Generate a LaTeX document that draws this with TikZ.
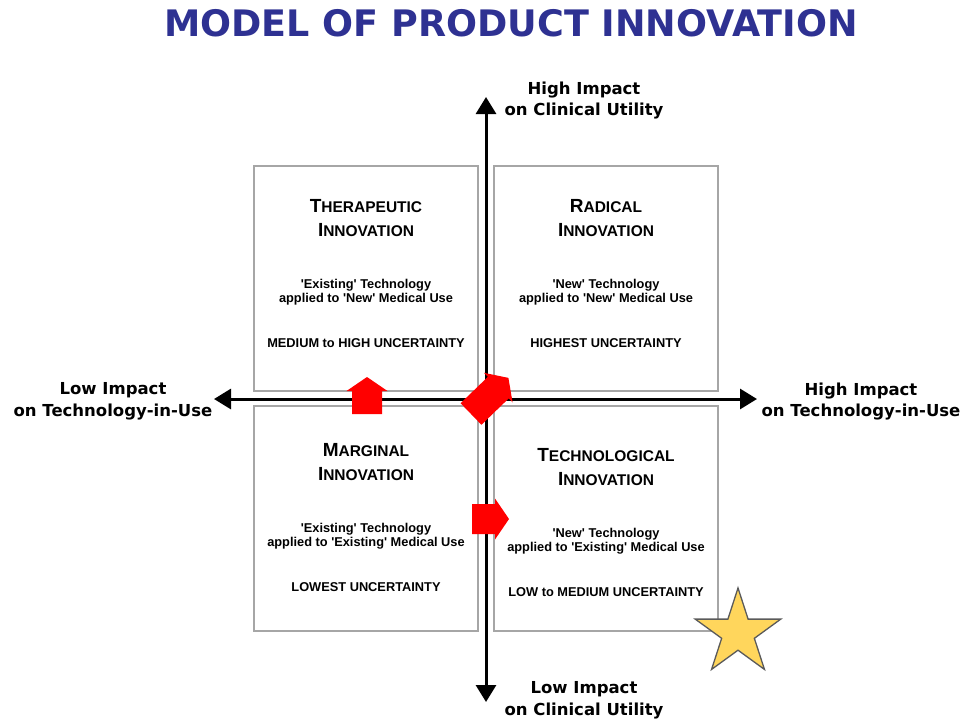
\documentclass[tikz,border=0pt]{standalone}
\usepackage{fontspec}
\setmainfont{Liberation Sans}
\newfontfamily\titlefont{DejaVu Sans}
\usetikzlibrary{arrows.meta,shapes.geometric}

\definecolor{titleblue}{HTML}{2E3192}
\definecolor{boxgray}{HTML}{A6A6A6}
\definecolor{stargold}{HTML}{FFD65C}
\definecolor{stargray}{HTML}{5A5A5A}

% small caps by hand: big initial, smaller rest
\newcommand{\capword}[2]{{\fontsize{19}{19}\selectfont #1}{\fontsize{15.5}{15.5}\selectfont #2}}
\newcommand{\q}{\textquotesingle}

% red block arrow: tail at #1, turned by #2, length #3
\newcommand{\redarrow}[3]{%
  \fill[red, shift={#1}, rotate=#2]
    (0,-15) -- (#3-14,-15) -- (#3-14,-20.5) -- (#3,0)
    -- (#3-14,20.5) -- (#3-14,15) -- (0,15) -- cycle;}

\begin{document}
\begin{tikzpicture}[x=1pt, y=-1pt,
    quadbox/.style={draw=boxgray, line width=1.3pt, minimum width=224pt,
        minimum height=225pt, inner sep=0pt},
    heading/.style={anchor=base, inner sep=0pt, font=\bfseries},
    desc/.style={anchor=base, inner sep=0pt, font={\bfseries\fontsize{12.8}{14}\selectfont}},
    axislabel/.style={align=center, inner sep=0pt,
        font={\titlefont\bfseries\fontsize{16.5}{21.5}\selectfont}},
    axis/.style={line width=3pt,
        {Triangle[length=17pt,width=20pt]}-{Triangle[length=17pt,width=20pt]}}]

    \useasboundingbox (0,0) rectangle (966,723);

    % Title
    \node[font={\titlefont\bfseries\fontsize{36.5}{40}\selectfont}, text=titleblue]
        (title) at (511,23) {MODEL OF PRODUCT INNOVATION};

    % Quadrants
    \node[quadbox] (ther) at (366,278.5) {};
    \node[quadbox] (radi) at (606,278.5) {};
    \node[quadbox] (marg) at (366,518.5) {};
    \node[quadbox] (tech) at (606,518.5) {};

    % Therapeutic (top left)
    \node[heading] (ther-a) at (366,212) {\capword{T}{HERAPEUTIC}};
    \node[heading] (ther-b) at (366,236) {\capword{I}{NNOVATION}};
    \node[desc] (ther-c) at (366,288) {\q Existing\q\ Technology};
    \node[desc] (ther-d) at (366,302) {applied to \q New\q\ Medical Use};
    \node[desc] (ther-e) at (366,347) {MEDIUM to HIGH UNCERTAINTY};

    % Radical (top right)
    \node[heading] (radi-a) at (606,212) {\capword{R}{ADICAL}};
    \node[heading] (radi-b) at (606,236) {\capword{I}{NNOVATION}};
    \node[desc] (radi-c) at (606,288) {\q New\q\ Technology};
    \node[desc] (radi-d) at (606,302) {applied to \q New\q\ Medical Use};
    \node[desc] (radi-e) at (606,347) {HIGHEST UNCERTAINTY};

    % Marginal (bottom left)
    \node[heading] (marg-a) at (366,456) {\capword{M}{ARGINAL}};
    \node[heading] (marg-b) at (366,480) {\capword{I}{NNOVATION}};
    \node[desc] (marg-c) at (366,532) {\q Existing\q\ Technology};
    \node[desc] (marg-d) at (366,546) {applied to \q Existing\q\ Medical Use};
    \node[desc] (marg-e) at (366,591) {LOWEST UNCERTAINTY};

    % Technological (bottom right)
    \node[heading] (tech-a) at (606,461) {\capword{T}{ECHNOLOGICAL}};
    \node[heading] (tech-b) at (606,485) {\capword{I}{NNOVATION}};
    \node[desc] (tech-c) at (606,537) {\q New\q\ Technology};
    \node[desc] (tech-d) at (606,551) {applied to \q Existing\q\ Medical Use};
    \node[desc] (tech-e) at (606,596) {LOW to MEDIUM UNCERTAINTY};

    % Axis ends
    \coordinate (clin-hi) at (486,97);
    \coordinate (clin-lo) at (486,702);
    \coordinate (use-lo) at (214,399);
    \coordinate (use-hi) at (757,399);

    % Axes
    \draw[axis] (clin-lo) -- (clin-hi);
    \draw[axis] (use-lo) -- (use-hi);

    % Axis labels
    \node[axislabel] (lbl-top) at (584,100.5) {High Impact\\on Clinical Utility};
    \node[axislabel] (lbl-bot) at (584,700.5) {Low Impact\\on Clinical Utility};
    \node[axislabel] (lbl-left) at (113,401.5) {Low Impact\\on Technology-in-Use};
    \node[axislabel] (lbl-right) at (861,401.5) {High Impact\\on Technology-in-Use};

    % Moves between quadrants
    \redarrow{(367,414)}{90}{37}
    \redarrow{(471,414)}{44}{52}
    \redarrow{(472,519)}{0}{37}

    % Star
    \node[star, star points=5, star point ratio=2.618, minimum size=90pt,
        inner sep=0pt, draw=stargray, fill=stargold, line width=1.3pt]
        (mark) at (738,633) {};

\end{tikzpicture}
\end{document}
